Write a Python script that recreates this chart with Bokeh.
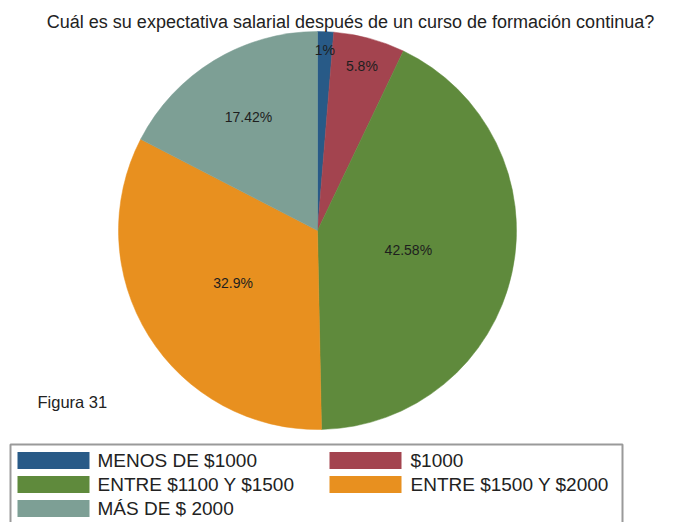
import math
from bokeh.plotting import figure
from bokeh.models import Range1d, ColumnDataSource
from bokeh.core.properties import value
from bokeh.embed import file_html
from bokeh.resources import INLINE

# ---- data ----
title_text = "Cuál es su expectativa salarial después de un curso de formación continua?"
categories = ["MENOS DE $1000", "$1000", "ENTRE $1100 Y $1500", "ENTRE $1500 Y $2000", "MÁS DE $ 2000"]
shares = [1.3, 5.8, 42.58, 32.9, 17.42]
share_labels = ["1%", "5.8%", "42.58%", "32.9%", "17.42%"]
note_text = "Figura 31"

# ---- styles / layout ----
colors = ["#285a87", "#a3444f", "#5f8a3c", "#e8901f", "#7d9f95"]
label_radius_frac = [0.91, 0.855, 0.467, 0.5, 0.667]
FONT = value("Liberation Sans")

W, H = 665, 522
def Y(page_y):
    return H - page_y

p = figure(width=W, height=H, output_backend="svg", toolbar_location=None,
           x_range=Range1d(0, W), y_range=Range1d(0, H),
           min_border=0, min_border_left=0, min_border_right=0,
           min_border_top=0, min_border_bottom=0)
p.axis.visible = False
p.grid.visible = False
p.outline_line_color = None
p.background_fill_color = "white"
p.border_fill_color = "white"

cx, cy, r = 317, Y(230), 199
total = sum(shares)
cum = [0.0]
for s in shares:
    cum.append(cum[-1] + s / total)
starts = [math.pi / 2 - cum[i + 1] * 2 * math.pi for i in range(len(shares))]
ends = [math.pi / 2 - cum[i] * 2 * math.pi for i in range(len(shares))]
mids = [(a + b) / 2 for a, b in zip(starts, ends)]

src = ColumnDataSource(dict(start=starts, end=ends, color=colors))
p.wedge(x=cx, y=cy, radius=r, start_angle="start", end_angle="end",
        fill_color="color", line_color="color", line_width=0.5, source=src)

lx = [cx + f * r * math.cos(m) for f, m in zip(label_radius_frac, mids)]
ly = [cy + f * r * math.sin(m) for f, m in zip(label_radius_frac, mids)]
p.text(x=lx, y=ly, text=share_labels, text_align="center", text_baseline="middle",
       text_font=FONT, text_font_size="14px", text_color="#1e1e1e")

# title
p.text(x=[350], y=[Y(21)], text=[title_text], text_align="center", text_baseline="middle",
       text_font=FONT, text_font_size="18px", text_color="#222222")
# note
p.text(x=[37], y=[Y(401)], text=[note_text], text_align="left", text_baseline="middle",
       text_font=FONT, text_font_size="16.5px", text_color="#222222")

# legend box
p.quad(left=[10], right=[622], top=[Y(444)], bottom=[Y(540)], fill_color=None,
       line_color="#9a9a9a", line_width=2)

n = len(categories)
sw_x = [17 + 312 * (i % 2) + 36 for i in range(n)]
sw_y = [Y(460 + 24 * (i // 2)) for i in range(n)]
p.rect(x=sw_x, y=sw_y, width=72, height=17, fill_color=colors, line_color=None)
tx = [97 + 313 * (i % 2) for i in range(n)]
p.text(x=tx, y=sw_y, text=categories, text_align="left", text_baseline="middle",
       text_font=FONT, text_font_size="19px", text_color="#222222")

open("out.html", "w").write(file_html(p, INLINE))
